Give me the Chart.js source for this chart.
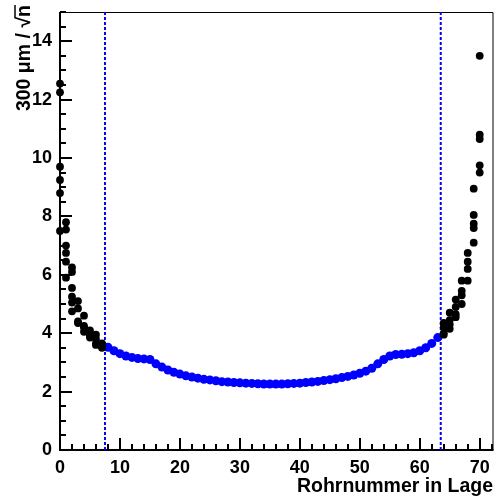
<!DOCTYPE html>
<html>
<head>
<meta charset="utf-8">
<script src="https://cdn.jsdelivr.net/npm/chart.js@4.4.1/dist/chart.umd.min.js"></script>
<style>
html, body { margin: 0; padding: 0; background: #fff; }
#wrap { width: 498px; height: 496px; }
</style>
</head>
<body>
<div id="wrap"><canvas id="graph"></canvas></div>
<script>
// tubes at the layer edges (black)
var edgeX = [0,0,0,0,0,0, 1,1,1,1,1,1, 2,2,2,2,2,2, 3,3,3,3, 4,4,4,4, 5,5,5,5, 6,6,6,6, 7,7,7,
             64,64,64,64, 65,65,65,65, 66,66,66,66, 67,67,67,67, 68,68,68,68, 69,69,69,69,69, 70,70,70,70,70];
var edgeY = [12.55,12.25,9.7,9.25,8.8,7.5, 7.8,7.55,7.0,6.75,6.45,5.9, 6.25,6.1,5.55,5.25,5.05,4.75,
             5.1,4.85,4.4,4.35, 4.6,4.25,4.2,4.05, 4.1,3.95,3.9,3.85, 3.95,3.8,3.65,3.6, 3.65,3.55,3.5,
             4.35,4.2,4.0,3.95, 4.7,4.45,4.3,4.15, 5.15,4.9,4.65,4.55, 5.8,5.45,5.3,5.0,
             6.75,6.45,6.2,5.8, 8.95,8.05,7.75,7.6,7.1, 13.5,10.8,10.65,9.75,9.5];

// inner tubes (blue), tube 8 .. 63
var innerX = [8,9,10,11,12,13,14,15,16,17,18,19,20,21,22,23,24,25,26,27,28,29,30,31,32,33,34,35,
              36,37,38,39,40,41,42,43,44,45,46,47,48,49,50,51,52,53,54,55,56,57,58,59,60,61,62,63];
var innerY = [3.52,3.4,3.3,3.22,3.17,3.13,3.12,3.1,2.95,2.84,2.74,2.66,2.6,2.54,2.5,2.46,2.42,2.4,
              2.37,2.34,2.33,2.31,2.3,2.29,2.28,2.27,2.26,2.26,2.26,2.26,2.27,2.28,2.29,2.31,2.33,
              2.35,2.38,2.41,2.44,2.48,2.52,2.57,2.63,2.7,2.8,2.95,3.1,3.22,3.27,3.28,3.3,3.33,
              3.4,3.5,3.65,3.85];

var cutX = [7.5, 63.5];
var xRange = [0, 72.3];
var yRange = [0, 15];

function toPoints(xs, ys) {
  var pts = [];
  for (var i = 0; i < xs.length; i++) {
    pts.push({x: xs[i], y: ys[i]});
  }
  return pts;
}

var font = 'Liberation Sans, Arial, Helvetica, sans-serif';

// ROOT style frame: inward ticks, thick axes, thin top/right border, titles
var framePlugin = {
  id: 'frame',
  beforeDatasetsDraw: function (chart) {
    var ctx = chart.ctx;
    var a = chart.chartArea;
    var xs = chart.scales.x, ys = chart.scales.y;
    ctx.save();
    ctx.strokeStyle = '#000';
    ctx.lineWidth = 1;
    ctx.beginPath();
    ctx.moveTo(a.left, a.top + 0.5); ctx.lineTo(a.right - 0.5, a.top + 0.5);
    ctx.lineTo(a.right - 0.5, a.bottom);
    ctx.stroke();

    ctx.lineWidth = 2;
    ctx.beginPath();
    for (var v = 0; v <= xRange[1]; v += 2) {
      var px = Math.round(xs.getPixelForValue(v));
      var len = (v % 10 === 0) ? 12 : 6;
      ctx.moveTo(px, a.bottom); ctx.lineTo(px, a.bottom - len);
    }
    for (var w = 0; w <= yRange[1]; w += 0.5) {
      var py = Math.round(ys.getPixelForValue(w));
      var len2 = (w % 2 === 0) ? 12 : 6;
      ctx.moveTo(a.left, py); ctx.lineTo(a.left + len2, py);
    }
    ctx.stroke();

    ctx.lineWidth = 2;
    ctx.beginPath();
    ctx.moveTo(a.left, a.top); ctx.lineTo(a.left, a.bottom); ctx.lineTo(a.right, a.bottom);
    ctx.stroke();
    ctx.restore();
  },
  afterDraw: function (chart) {
    var ctx = chart.ctx;
    ctx.save();
    ctx.fillStyle = '#000';
    ctx.strokeStyle = '#000';
    ctx.font = 'bold 19.5px ' + font;
    ctx.textAlign = 'right';
    ctx.textBaseline = 'alphabetic';
    ctx.fillText('Rohrnummer in Lage', 493, 492);

    // y title, rotated
    ctx.translate(30, 5);
    ctx.rotate(-Math.PI / 2);
    ctx.textAlign = 'right';
    ctx.fillText('300 \u03bcm / \u221an', 0, 0);
    // overline over n
    var wn = ctx.measureText('n').width;
    ctx.lineWidth = 1.5;
    ctx.beginPath();
    ctx.moveTo(-wn - 1, -15); ctx.lineTo(0, -15);
    ctx.stroke();
    ctx.restore();
  }
};

var datasets = [
  {
    label: 'edge',
    data: toPoints(edgeX, edgeY),
    backgroundColor: '#000',
    borderWidth: 0,
    pointRadius: 3.9,
    clip: false
  },
  {
    label: 'inner',
    data: toPoints(innerX, innerY),
    backgroundColor: '#0000ff',
    borderWidth: 0,
    pointRadius: 4.5,
    clip: false
  }
];
for (var c = 0; c < cutX.length; c++) {
  datasets.push({
    label: 'cut' + c,
    data: [{x: cutX[c], y: yRange[0]}, {x: cutX[c], y: yRange[1]}],
    showLine: true,
    pointRadius: 0,
    borderColor: '#0000ff',
    borderWidth: 2,
    borderDash: [3, 2]
  });
}

function noPad(s) {
  s.paddingTop = 0; s.paddingBottom = 0;
  s.paddingLeft = 0; s.paddingRight = 0;
}

var ctx = document.getElementById('graph').getContext('2d');
var chart = new Chart(ctx, {
  type: 'scatter',
  data: { datasets: datasets },
  options: {
    responsive: true,
    maintainAspectRatio: false,
    animation: false,
    events: [],
    layout: { padding: { top: 12, right: 1, left: 0, bottom: 0 } },
    plugins: { legend: { display: false }, tooltip: { enabled: false } },
    scales: {
      x: {
        type: 'linear',
        min: xRange[0], max: xRange[1],
        border: { display: false },
        grid: { display: false, drawTicks: false },
        ticks: { stepSize: 10, includeBounds: false, padding: 7, color: '#000', maxRotation: 0,
                 font: { family: font, size: 18, weight: 'bold' } },
        afterFit: function (s) { s.height = 46; noPad(s); }
      },
      y: {
        type: 'linear',
        min: yRange[0], max: yRange[1],
        border: { display: false },
        grid: { display: false, drawTicks: false },
        ticks: { stepSize: 2, includeBounds: false, padding: 8, color: '#000',
                 font: { family: font, size: 18, weight: 'bold' } },
        afterFit: function (s) { s.width = 60; noPad(s); }
      }
    }
  },
  plugins: [framePlugin]
});
</script>
</body>
</html>
